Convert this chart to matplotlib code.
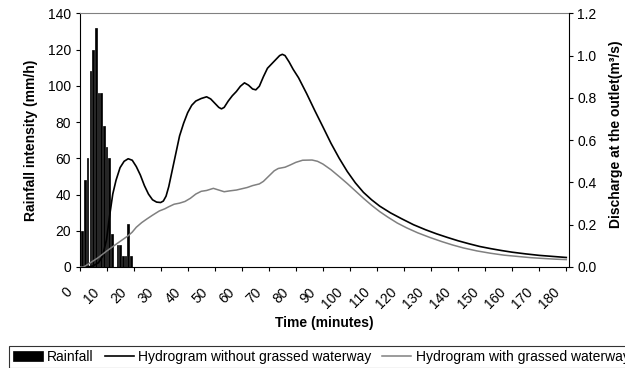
import numpy as np
import matplotlib
matplotlib.use("Agg")
import matplotlib.pyplot as plt
import matplotlib.transforms as mtransforms

plt.rcParams["font.family"] = ["Liberation Sans", "DejaVu Sans"]

# Rainfall intensity (mm/h), minutes 1..19, zero for the rest of the event
rain_mmh = [20, 48, 60, 108, 120, 132, 96, 96, 78, 66, 60, 18, 0, 12, 12, 6, 6, 24, 6]
minutes = np.arange(0, 181)

# Hydrogram without grassed waterway (m3/s)
t_without = [0, 3, 5, 7, 8.5, 10, 11, 12.3, 13.5, 15, 16.5, 18, 19.5, 21, 22.5, 24, 25.5,
             27, 28.5, 30, 31, 32, 33, 34, 35, 36, 37, 38.5, 40, 41.5, 43, 45, 47, 48.5,
             50, 51.5, 52.5, 53.5, 55, 56.5, 58, 59.5, 61, 62.5, 64, 65.2, 66.5, 68,
             69.5, 71, 72.5, 74, 75, 76, 77.5, 79, 81, 84, 87, 90, 93, 96, 99, 102, 105,
             108, 111, 115, 119, 123.5, 128, 132, 136, 140, 144, 148, 152, 156, 160,
             165, 170, 175, 180]
q_without = [0, 0, 0.005, 0.02, 0.05, 0.13, 0.23, 0.345, 0.41, 0.47, 0.5, 0.512, 0.505,
             0.475, 0.435, 0.385, 0.345, 0.318, 0.307, 0.305, 0.312, 0.335, 0.38, 0.44,
             0.5, 0.56, 0.62, 0.68, 0.73, 0.765, 0.785, 0.797, 0.805, 0.795, 0.775,
             0.755, 0.748, 0.755, 0.785, 0.81, 0.83, 0.855, 0.871, 0.86, 0.842, 0.838,
             0.855, 0.9, 0.94, 0.96, 0.98, 1.0, 1.006, 1.0, 0.97, 0.935, 0.895, 0.82,
             0.74, 0.663, 0.585, 0.515, 0.452, 0.398, 0.353, 0.318, 0.288, 0.256, 0.229,
             0.2, 0.176, 0.157, 0.14, 0.124, 0.11, 0.097, 0.087, 0.078, 0.07, 0.062,
             0.055, 0.05, 0.045]

# Hydrogram with grassed waterway (m3/s)
t_with = [0, 1.5, 4, 7, 10, 14, 18, 19.5, 21, 23, 25, 27, 29.5, 31.5, 33, 35, 37, 39, 41,
          43, 45, 47, 49.5, 51.5, 53.5, 55.5, 58, 60, 62, 64, 66.5, 68, 70, 72, 73.5, 76,
          78, 80, 82.5, 86, 88, 90, 93, 96, 99, 102, 105, 108, 111, 114, 117.5, 121, 125,
          129.5, 134, 138, 142, 147, 152, 157, 162, 167, 172, 176, 180]
q_with = [0, 0, 0.02, 0.045, 0.075, 0.112, 0.148, 0.165, 0.188, 0.21, 0.228, 0.245, 0.265,
          0.275, 0.285, 0.297, 0.302, 0.31, 0.325, 0.345, 0.358, 0.362, 0.372, 0.364,
          0.356, 0.36, 0.364, 0.37, 0.376, 0.385, 0.393, 0.405, 0.43, 0.455, 0.466, 0.472,
          0.483, 0.495, 0.505, 0.506, 0.5, 0.487, 0.46, 0.428, 0.395, 0.36, 0.325, 0.292,
          0.262, 0.236, 0.208, 0.185, 0.162, 0.14, 0.12, 0.104, 0.09, 0.076, 0.065,
          0.056, 0.05, 0.044, 0.04, 0.037, 0.035]

rain = np.zeros(len(minutes))
rain[1:1 + len(rain_mmh)] = rain_mmh

fig = plt.figure(figsize=(6.25, 3.68), dpi=100)
ax = fig.add_axes([79.5 / 625, 1 - 267 / 368, (569 - 79.5) / 625, (267 - 13.3) / 368])
ax2 = ax.twinx()

bars = ax.bar(minutes, rain, width=0.6, color="black", edgecolor="black",
              linewidth=0.5, label="Rainfall")
l1, = ax2.plot(t_without, q_without, color="black", lw=1.2,
               label="Hydrogram without grassed waterway")
l2, = ax2.plot(t_with, q_with, color="#808080", lw=1.1,
               label="Hydrogram with grassed waterway")

ax.set_xlim(0, 181)
ax.set_ylim(0, 140)
ax2.set_ylim(0, 1.2)
ax.set_xticks(range(0, 181, 10))
ax.set_yticks(range(0, 141, 20))
ax2.set_yticks(np.arange(0, 1.21, 0.2))
ax2.set_yticklabels([f"{v:.1f}" for v in np.arange(0, 1.21, 0.2)])

ax.tick_params(axis="both", direction="out", length=3, width=0.8, labelsize=10, pad=3)
ax.tick_params(axis="x", pad=10)
ax2.tick_params(axis="y", direction="out", length=3, width=0.8, labelsize=10, pad=3)

off = mtransforms.ScaledTranslation(-3 / 72, 0, fig.dpi_scale_trans)
for lab in ax.get_xticklabels():
    lab.set_rotation(45)
    lab.set_ha("right")
    lab.set_transform(lab.get_transform() + off)

ax.spines["right"].set_visible(False)
ax.spines["top"].set_color("#808080")
ax2.spines["left"].set_visible(False)
ax2.spines["bottom"].set_visible(False)
ax2.spines["top"].set_visible(False)
ax2.spines["right"].set_color("black")

fig.text(31 / 625, 1 - 140 / 368, "Rainfall intensity (mm/h)", rotation=90,
         ha="center", va="center", fontsize=10, fontweight="bold")
fig.text(616 / 625, 1 - 134 / 368, "Discharge at the outlet(m³/s)", rotation=90,
         ha="center", va="center", fontsize=10, fontweight="bold")
fig.text(324 / 625, 1 - 323 / 368, "Time (minutes)", ha="center", va="center",
         fontsize=10, fontweight="bold")

leg = fig.legend([bars, l1, l2],
                 ["Rainfall", "Hydrogram without grassed waterway",
                  "Hydrogram with grassed waterway"],
                 loc="upper left", bbox_to_anchor=(9.3 / 625, 1 - 346 / 368),
                 ncol=3, frameon=True, fancybox=False, edgecolor="black",
                 borderaxespad=0, borderpad=0.3, handlelength=2.1,
                 handletextpad=0.3, columnspacing=0.8, fontsize=10)
leg.get_frame().set_linewidth(0.8)

fig.savefig("out.png", dpi=100)
